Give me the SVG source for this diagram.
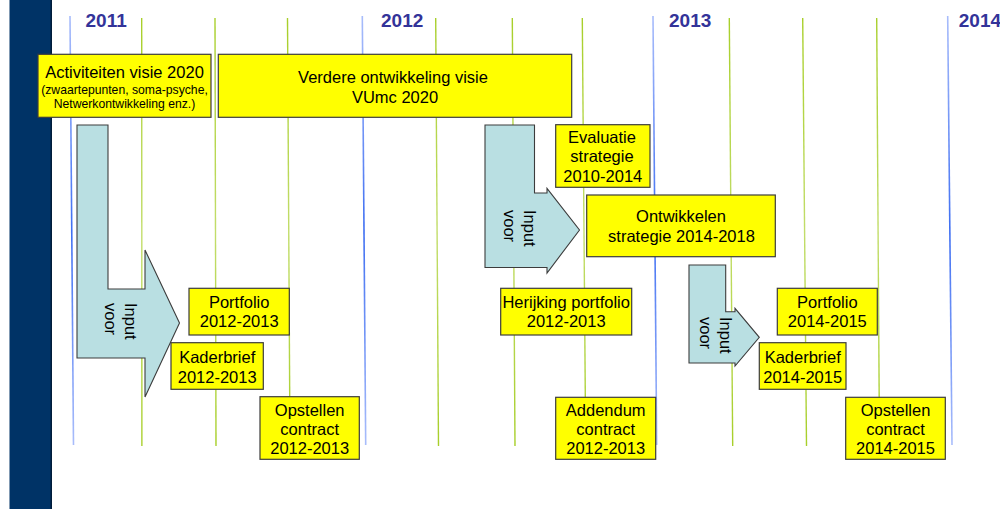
<svg xmlns="http://www.w3.org/2000/svg" width="1000" height="509" viewBox="0 0 1000 509">
  <defs>
    <linearGradient id="gBlue" gradientUnits="userSpaceOnUse" x1="0" y1="16" x2="0" y2="445">
      <stop offset="0" stop-color="#a9bdfb"/>
      <stop offset="0.5" stop-color="#3f6ff2"/>
      <stop offset="1" stop-color="#a9bdfb"/>
    </linearGradient>
    <linearGradient id="gGreen" gradientUnits="userSpaceOnUse" x1="0" y1="18" x2="0" y2="446">
      <stop offset="0" stop-color="#a8cf2a"/>
      <stop offset="0.5" stop-color="#c2dd6a"/>
      <stop offset="1" stop-color="#a8cf2a"/>
    </linearGradient>
    <style>
      .blue { stroke: url(#gBlue); stroke-width: 1.6; fill: none; }
      .green { stroke: url(#gGreen); stroke-width: 1.4; fill: none; }
      .year { font-family: "Liberation Sans", Arial, sans-serif; font-weight: bold; font-size: 19px; fill: #333399; }
      .box { fill: #ffff00; stroke: #3c3c3c; stroke-width: 1.2; }
      .t { font-family: "Liberation Sans", Arial, sans-serif; font-size: 16.5px; fill: #000; text-anchor: middle; }
      .ts { font-family: "Liberation Sans", Arial, sans-serif; font-size: 12.2px; fill: #000; text-anchor: middle; }
      .arrow { fill: #b9dfe2; stroke: #3c3c3c; stroke-width: 1.1; stroke-linejoin: miter; }
      .al { font-family: "Liberation Sans", Arial, sans-serif; font-size: 16.5px; fill: #000; }
    </style>
  </defs>

  <rect x="0" y="0" width="1000" height="509" fill="#ffffff"/>

  <g id="sidebar">
    <rect x="9.5" y="0" width="42.5" height="509" fill="#003366"/>
    <rect x="50.5" y="0" width="1.5" height="509" fill="#001c3a"/>
  </g>

  <g id="grid">
    <line class="blue" x1="70" y1="16" x2="73.5" y2="445"/>
    <line class="green" x1="141.7" y1="18" x2="141.9" y2="446"/>
    <line class="green" x1="215" y1="18" x2="216" y2="446"/>
    <line class="green" x1="287.5" y1="18" x2="290" y2="446"/>
    <line class="blue" x1="362.3" y1="16" x2="365.7" y2="445"/>
    <line class="green" x1="435.7" y1="18" x2="438.5" y2="446"/>
    <line class="green" x1="512.3" y1="18" x2="515" y2="446"/>
    <line class="green" x1="582.3" y1="18" x2="585.7" y2="446"/>
    <line class="blue" x1="653" y1="16" x2="656.7" y2="445"/>
    <line class="green" x1="729.3" y1="18" x2="732.7" y2="446"/>
    <line class="green" x1="802.7" y1="18" x2="806.5" y2="446"/>
    <line class="green" x1="876.7" y1="18" x2="879.5" y2="446"/>
    <line class="blue" x1="947.7" y1="16" x2="952" y2="445"/>
  </g>

  <g id="years">
    <text class="year" x="85.5" y="27">2011</text>
    <text class="year" x="381" y="27">2012</text>
    <text class="year" x="669" y="27">2013</text>
    <text class="year" x="958.8" y="27">2014</text>
  </g>

  <g id="connectors">
    <g id="arrow1">
      <polygon class="arrow" points="77,125 108,125 108,289 145,289 145,250 179.5,323 145,397 145,358 77,358"/>
      <g transform="translate(124.5,303) rotate(90)">
        <text class="al" x="0" y="0">Input</text>
        <text class="al" x="0" y="20">voor</text>
      </g>
    </g>
    <g id="arrow2">
      <polygon class="arrow" points="485,125 534.5,125 534.5,193 547,193 547,188.3 579.5,230 547,273 547,267.5 485,267.5"/>
      <g transform="translate(524,210) rotate(90)">
        <text class="al" x="0" y="0">Input</text>
        <text class="al" x="0" y="20.5">voor</text>
      </g>
    </g>
    <g id="arrow3">
      <polygon class="arrow" points="689,265 725.7,265 725.7,311.7 735,311.7 735,308.3 759.3,337.3 735,366 735,363 689,363"/>
      <g transform="translate(719.5,317) rotate(90)">
        <text class="al" x="0" y="0">Input</text>
        <text class="al" x="0" y="20">voor</text>
      </g>
    </g>
  </g>

  <g id="activiteiten">
    <rect class="box" x="38" y="54.3" width="173" height="63"/>
    <text class="t" x="124.5" y="78">Activiteiten visie 2020</text>
    <text class="ts" x="124.5" y="94">(zwaartepunten, soma-psyche,</text>
    <text class="ts" x="124.5" y="107.5">Netwerkontwikkeling enz.)</text>
  </g>

  <g id="verdere">
    <rect class="box" x="218.3" y="54.3" width="353.4" height="63"/>
    <text class="t" x="393" y="82.5">Verdere ontwikkeling visie</text>
    <text class="t" x="395" y="102.5">VUmc 2020</text>
  </g>

  <g id="evaluatie">
    <rect class="box" x="555.7" y="124.7" width="94.3" height="62.6"/>
    <text class="t" x="602" y="142.5">Evaluatie</text>
    <text class="t" x="602" y="162">strategie</text>
    <text class="t" x="602.8" y="181.5">2010-2014</text>
  </g>

  <g id="ontwikkelen">
    <rect class="box" x="586.7" y="195" width="188.6" height="61.7"/>
    <text class="t" x="681" y="222">Ontwikkelen</text>
    <text class="t" x="681.5" y="241.5">strategie 2014-2018</text>
  </g>

  <g id="portfolio1">
    <rect class="box" x="189" y="288.3" width="100.3" height="46.7"/>
    <text class="t" x="239.2" y="308.3">Portfolio</text>
    <text class="t" x="239.2" y="327.3">2012-2013</text>
  </g>

  <g id="kaderbrief1">
    <rect class="box" x="171" y="342.7" width="92.3" height="46.6"/>
    <text class="t" x="217.2" y="363.3">Kaderbrief</text>
    <text class="t" x="217.2" y="382.7">2012-2013</text>
  </g>

  <g id="opstellen1">
    <rect class="box" x="260" y="396.7" width="99.3" height="62.6"/>
    <text class="t" x="309.7" y="415.7">Opstellen</text>
    <text class="t" x="309.7" y="435">contract</text>
    <text class="t" x="309.7" y="454.3">2012-2013</text>
  </g>

  <g id="herijking">
    <rect class="box" x="500.7" y="288.3" width="131" height="46.7"/>
    <text class="t" x="566.2" y="307.5">Herijking portfolio</text>
    <text class="t" x="566.2" y="326.8">2012-2013</text>
  </g>

  <g id="addendum">
    <rect class="box" x="555.7" y="397.3" width="100" height="62"/>
    <text class="t" x="605.7" y="415.7">Addendum</text>
    <text class="t" x="605.7" y="435">contract</text>
    <text class="t" x="605.7" y="454.3">2012-2013</text>
  </g>

  <g id="portfolio2">
    <rect class="box" x="777.3" y="288.3" width="100" height="46.7"/>
    <text class="t" x="827.3" y="308.3">Portfolio</text>
    <text class="t" x="827.3" y="326.8">2014-2015</text>
  </g>

  <g id="kaderbrief2">
    <rect class="box" x="759.3" y="342.7" width="86.7" height="46.6"/>
    <text class="t" x="802.7" y="363.3">Kaderbrief</text>
    <text class="t" x="802.7" y="382.7">2014-2015</text>
  </g>

  <g id="opstellen2">
    <rect class="box" x="845.7" y="397.3" width="99.6" height="62"/>
    <text class="t" x="895.5" y="415.7">Opstellen</text>
    <text class="t" x="895.5" y="435">contract</text>
    <text class="t" x="895.5" y="454.3">2014-2015</text>
  </g>
</svg>
